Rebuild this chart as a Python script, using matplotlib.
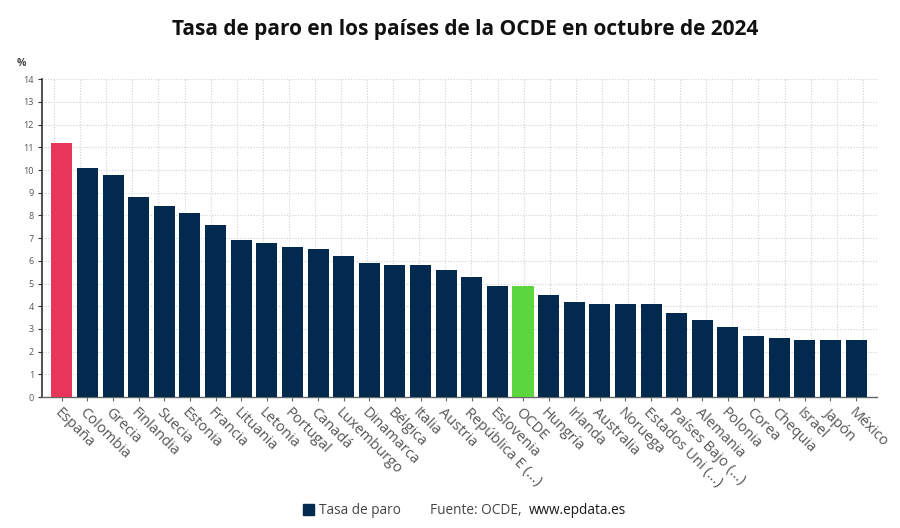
import matplotlib
matplotlib.use("Agg")
import matplotlib.pyplot as plt
import numpy as np

plt.rcParams['font.family'] = ['Open Sans', 'DejaVu Sans']

countries = ["España", "Colombia", "Grecia", "Finlandia", "Suecia", "Estonia", "Francia",
             "Lituania", "Letonia", "Portugal", "Canadá", "Luxemburgo", "Dinamarca", "Bélgica",
             "Italia", "Austria", "República E (...)", "Eslovenia", "OCDE", "Hungría", "Irlanda",
             "Australia", "Noruega", "Estados Uni (...)", "Países Bajo (...)", "Alemania",
             "Polonia", "Corea", "Chequia", "Israel", "Japón", "México"]
values = [11.2, 10.1, 9.8, 8.8, 8.4, 8.1, 7.6, 6.9, 6.8, 6.6, 6.5, 6.2, 5.9, 5.8, 5.8, 5.6,
          5.3, 4.9, 4.9, 4.5, 4.2, 4.1, 4.1, 4.1, 3.7, 3.4, 3.1, 2.7, 2.6, 2.5, 2.5, 2.5]
yticks = list(range(0, 15))

NAVY = "#012a4e"
RED = "#e8365a"
GREEN = "#5cd63d"
colors = [RED if c == "España" else GREEN if c == "OCDE" else NAVY for c in countries]

fig = plt.figure(figsize=(9, 5.28), dpi=100)
ax = fig.add_axes([0.047, 0.248, 0.927, 0.602])

x = np.arange(len(countries))
ax.bar(x, values, width=0.82, color=colors, zorder=3)

ax.set_xlim(-0.76, 31.8)
ax.set_ylim(0, 14)
ax.set_yticks(yticks)
ax.set_yticklabels([str(t) for t in yticks], fontsize=6.5, color="#555555")

# grid
GRID = dict(linestyle=(0, (1, 1.5)), color="#d2d2d2", linewidth=0.8, zorder=0)
ax.yaxis.grid(True, **GRID)
for gx in np.linspace(-0.3, 31.26, len(countries)):
    ax.axvline(gx, **GRID)

ax.set_xticks(x)
ax.set_xticklabels(countries, rotation=-45, ha="left", rotation_mode="anchor",
                   fontsize=10.5, color="#555555")
ax.tick_params(axis="x", length=3, color="#666666", pad=3)
ax.tick_params(axis="y", length=3, color="#333333", pad=3)

for s in ["top", "right"]:
    ax.spines[s].set_visible(False)
ax.spines["left"].set_color("#333333")
ax.spines["left"].set_linewidth(1.2)
ax.spines["bottom"].set_color("#666666")
ax.spines["bottom"].set_linewidth(1.0)

fig.text(0.019, 0.88, "%", fontsize=7.5, fontweight="bold", color="#444444", ha="left", va="center")
fig.text(0.517, 0.945, "Tasa de paro en los países de la OCDE en octubre de 2024",
         fontsize=15, fontweight="bold", color="#111111", ha="center", va="center")

# legend / source
fig.patches.append(plt.Rectangle((0.337, 0.025), 0.0115, 0.02, transform=fig.transFigure,
                                 color=NAVY, figure=fig))
fig.text(0.354, 0.034, "Tasa de paro", fontsize=9.8, color="#444444", ha="left", va="center")
fig.text(0.478, 0.034, "Fuente: OCDE, ", fontsize=9.8, color="#444444", ha="left", va="center")
fig.text(0.588, 0.034, "www.epdata.es", fontsize=9.8, color="#1a1a1a", ha="left", va="center",
         fontweight="medium")

fig.savefig("out.png", dpi=100)
